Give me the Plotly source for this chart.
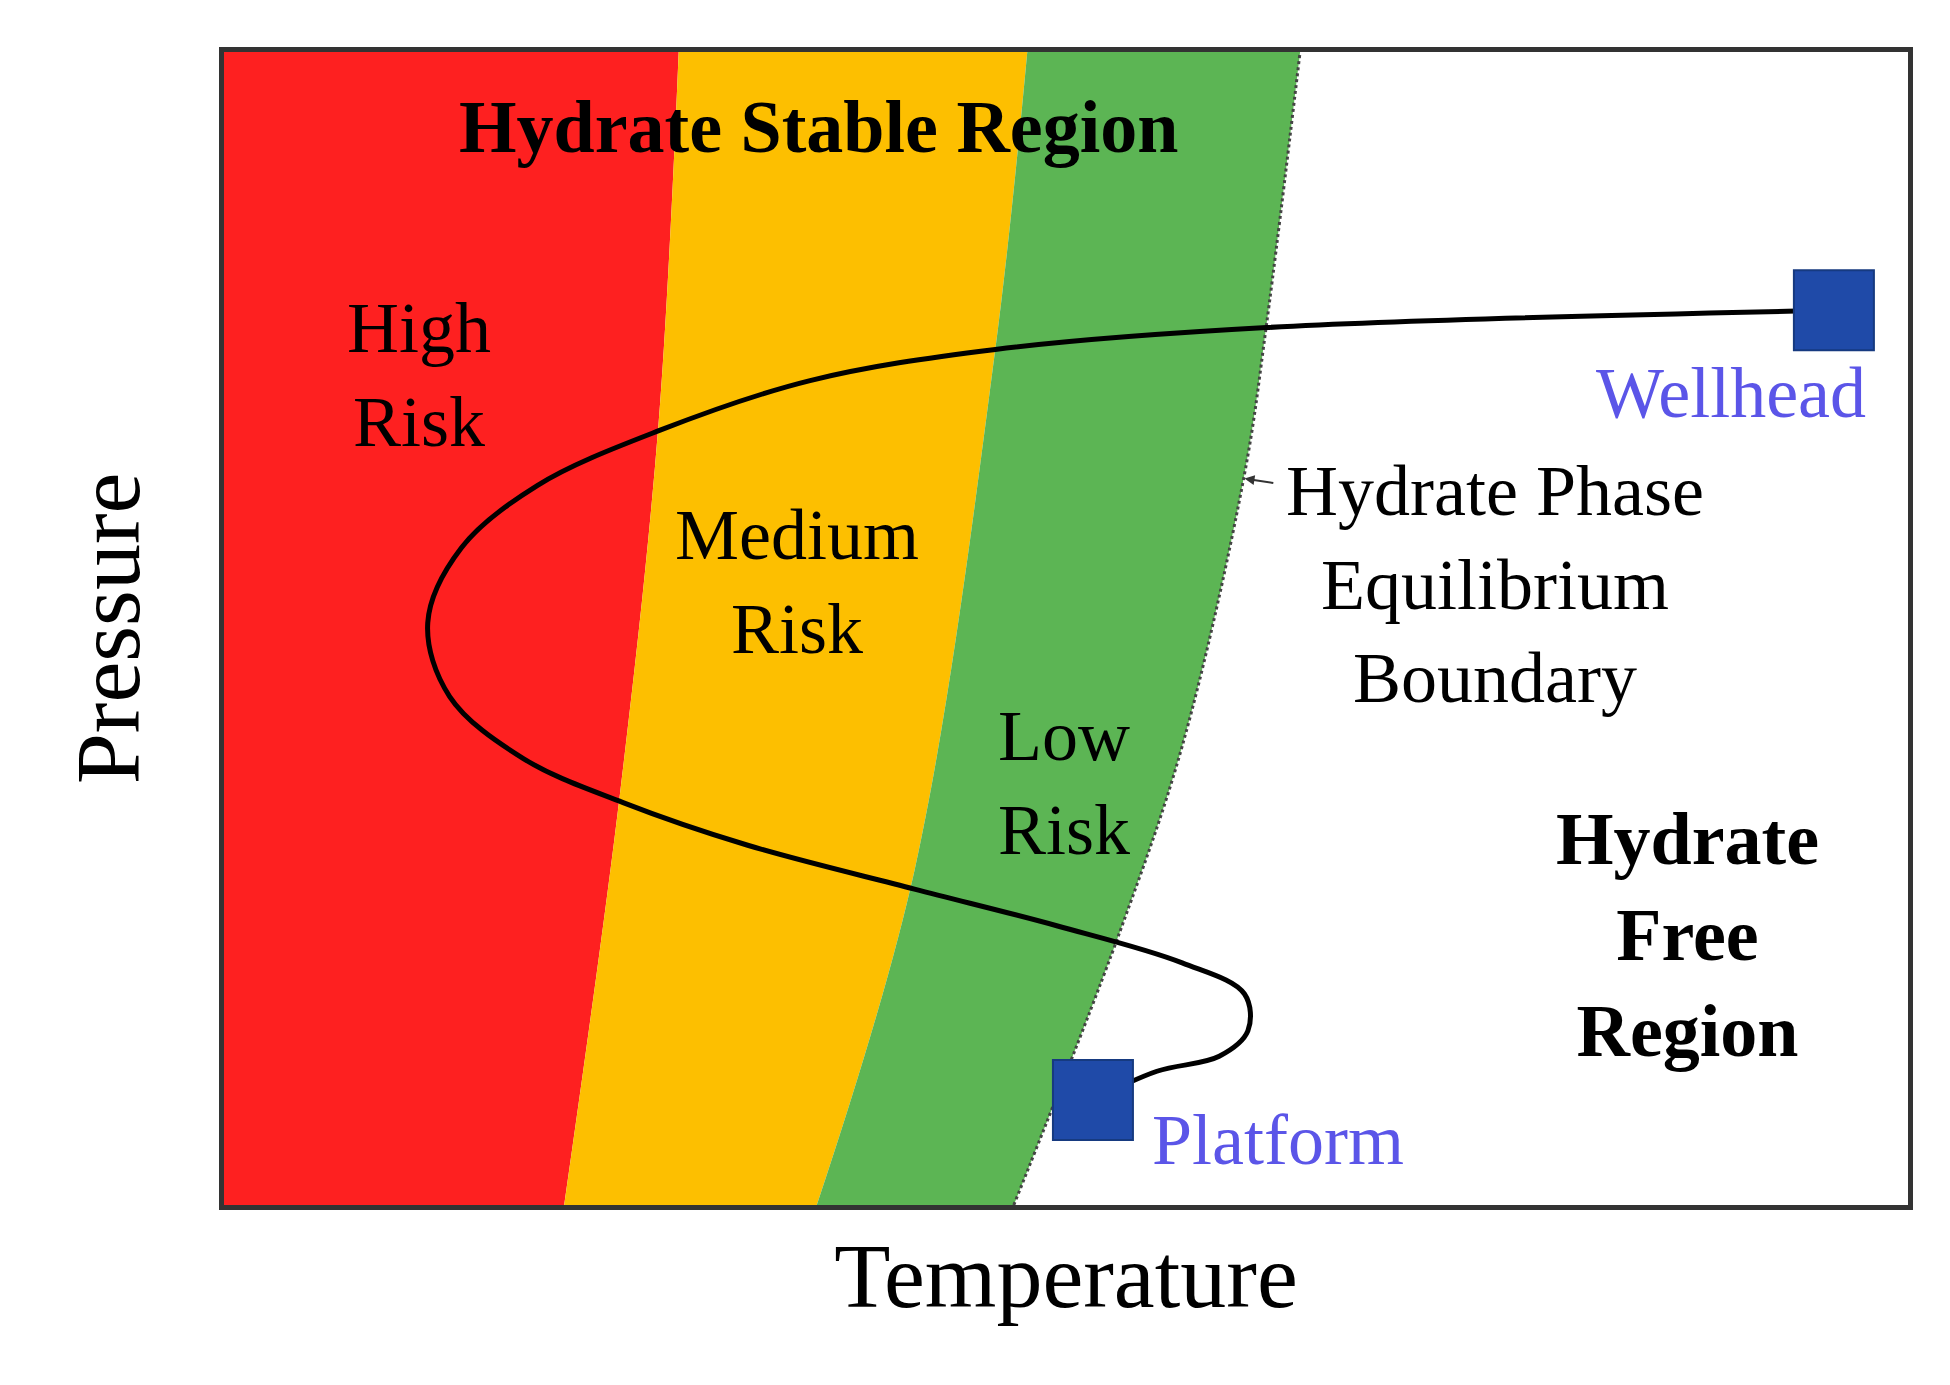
import plotly.graph_objects as go

# boundary curves (temperature x at given pressure y), normalised units
ry_x = [20.2, 23.5, 25.8, 27.0]
ry_y = [0, 35.5, 67.7, 100]
yg_x = [35.2, 41.0, 45.8, 47.7]
yg_y = [0, 29.0, 74.2, 100]
gw_x = [46.9, 53.2, 56.9, 60.6, 61.9, 63.9]
gw_y = [0, 23.7, 39.8, 63.4, 76.3, 100]

# pipeline path from wellhead to platform
path_x = [95.6, 61.9, 45.8, 34.8, 25.9, 18.6, 14.1, 12.1, 13.4, 17.8, 23.7, 31.1, 41.0, 49.5, 56.9, 60.6, 60.8, 59.1, 55.4, 51.6]
path_y = [77.6, 76.1, 74.2, 71.5, 67.2, 62.4, 57.0, 50.5, 44.1, 38.7, 34.9, 31.2, 27.4, 24.2, 21.0, 18.3, 15.1, 12.9, 11.6, 9.1]
ends_x = [95.6, 51.6]
ends_y = [77.6, 9.1]

RED, YEL, GRN = "#fe2020", "#fdbf00", "#5cb554"
FONT = "Liberation Serif"

fig = go.Figure()
fig.add_trace(go.Scatter(x=ry_x, y=ry_y, fill="tozerox", fillcolor=RED, mode="lines",
                         line=dict(width=0, color=RED, shape="spline"), hoverinfo="skip", showlegend=False))
fig.add_trace(go.Scatter(x=yg_x, y=yg_y, fill="tonextx", fillcolor=YEL, mode="lines",
                         line=dict(width=0, color=YEL, shape="spline"), hoverinfo="skip", showlegend=False))
fig.add_trace(go.Scatter(x=gw_x, y=gw_y, fill="tonextx", fillcolor=GRN, mode="lines",
                         line=dict(color="#444", width=3, dash="dot", shape="spline"), hoverinfo="skip", showlegend=False))
fig.add_trace(go.Scatter(x=path_x, y=path_y, mode="lines", line=dict(color="black", width=5, shape="spline", smoothing=1.0),
                         showlegend=False))
fig.add_trace(go.Scatter(x=ends_x, y=ends_y, mode="markers",
                         marker=dict(symbol="square", size=80, color="#1f4aa8", line=dict(color="#163a80", width=2)),
                         showlegend=False))

def txt(x, y, s, size=72, color="black", bold=False):
    if bold:
        s = "<b>" + s.replace("<br>", "</b><br><b>") + "</b>"
    fig.add_annotation(x=x, y=y, text=s, showarrow=False, font=dict(family=FONT, size=size, color=color),
                       align="center")

txt(35.3, 93.5, "Hydrate Stable Region", size=74, bold=True)
txt(11.6, 72.0, "High<br>Risk")
txt(34.0, 54.0, "Medium<br>Risk")
txt(49.9, 36.6, "Low<br>Risk")
txt(89.5, 70.4, "Wellhead", color="#5b55e8")
txt(75.5, 53.8, "Hydrate Phase<br>Equilibrium<br>Boundary")
txt(86.9, 23.4, "Hydrate<br>Free<br>Region", size=74, bold=True)
txt(62.6, 5.6, "Platform", color="#5b55e8")
fig.add_annotation(x=60.6, y=63.0, ax=62.4, ay=62.6, axref="x", ayref="y", text="", showarrow=True,
                   arrowhead=2, arrowsize=1, arrowwidth=2, arrowcolor="#333")

fig.update_xaxes(range=[0, 100], showgrid=False, zeroline=False, showticklabels=False, ticks="",
                 showline=True, mirror=True, linecolor="#333", linewidth=5,
                 title=dict(text="Temperature", font=dict(family=FONT, size=92, color="black"), standoff=35))
fig.update_yaxes(range=[0, 100], showgrid=False, zeroline=False, showticklabels=False, ticks="",
                 showline=True, mirror=True, linecolor="#333", linewidth=5,
                 title=dict(text="Pressure", font=dict(family=FONT, size=92, color="black"), standoff=50))
fig.update_layout(width=1950, height=1385, plot_bgcolor="white", paper_bgcolor="white",
                  margin=dict(l=216, r=50, t=44, b=188))
fig.write_html("out.html")
